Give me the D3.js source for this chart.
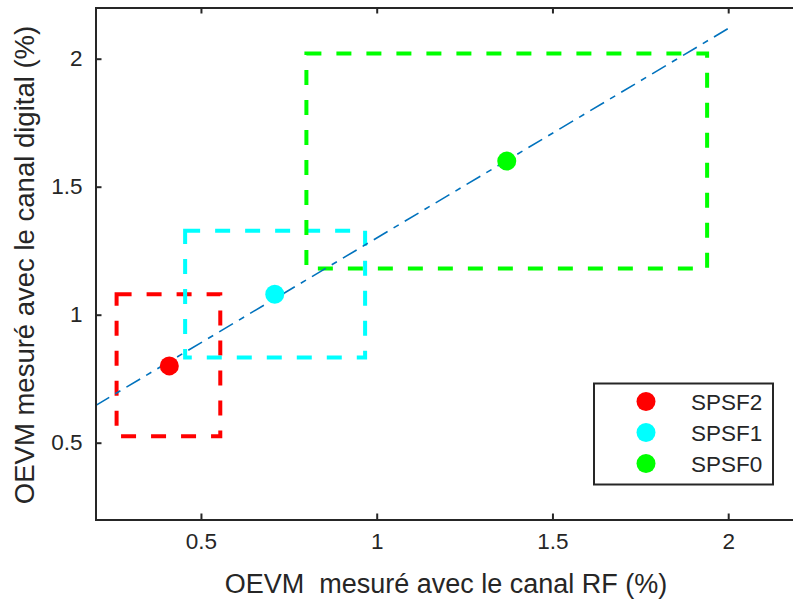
<!DOCTYPE html>
<html><head><meta charset="utf-8">
<script src="https://cdn.jsdelivr.net/npm/d3@7"></script>
<style>
html,body{margin:0;padding:0;background:#fff;overflow:hidden;}
svg{display:block;font-family:"Liberation Sans",Arial,sans-serif;}
</style></head>
<body>
<svg id="chart" width="793" height="599"></svg>
<script>
// ---- data ----
const series = ["SPSF2", "SPSF1", "SPSF0"];
const colors = ["#ff0000", "#00ffff", "#00ff00"];
const xValues = [0.41, 0.71, 1.37];
const yValues = [0.80, 1.08, 1.60];
// rectangles: [xmin, xmax, ymin, ymax]
const boxes = [
  [0.26, 0.555, 0.525, 1.08],
  [0.455, 0.967, 0.833, 1.328],
  [0.80, 1.94, 1.18, 2.02]
];
// fitted line endpoints
const fitX = [0.2, 2.0];
const fitY = [0.645, 2.118];
const xTicks = [0.5, 1, 1.5, 2];
const yTicks = [0.5, 1, 1.5, 2];
const xLabel = "OEVM  mesuré avec le canal RF (%)";
const yLabel = "OEVM mesuré avec le canal digital (%)";

// ---- drawing ----
const svg = d3.select("#chart");
const x = d3.scaleLinear().domain([0.2, 2.2]).range([95.5, 798.5]);
const y = d3.scaleLinear().domain([0.2, 2.2]).range([519.5, 7.5]);
const axisColor = "#262626";

// boxes
boxes.forEach((b, i) => {
  const p = d3.path();
  p.moveTo(x(b[0]), y(b[3]));
  p.lineTo(x(b[1]), y(b[3]));
  p.lineTo(x(b[1]), y(b[2]));
  p.lineTo(x(b[0]), y(b[2]));
  p.closePath();
  svg.append("path").attr("d", p.toString())
    .attr("fill", "none").attr("stroke", colors[i])
    .attr("stroke-width", 4).attr("stroke-dasharray", "15 15");
});

// fit line
const fitData = fitX.map((v, i) => [v, fitY[i]]);
svg.append("path").datum(fitData)
  .attr("d", d3.line().x(d => x(d[0])).y(d => y(d[1])))
  .attr("fill", "none").attr("stroke", "#0072BD")
  .attr("stroke-width", 1.6).attr("stroke-dasharray", "16 7 6 7");

// points
svg.selectAll("circle.pt").data(series).enter().append("circle")
  .attr("class", "pt")
  .attr("cx", (d, i) => x(xValues[i])).attr("cy", (d, i) => y(yValues[i]))
  .attr("r", 9.5).attr("fill", (d, i) => colors[i]);

// axes
const fs = 22.5;
const xAxis = d3.axisBottom(x).tickValues(xTicks).tickSize(-6).tickPadding(14).tickFormat(d3.format("~g"));
const gx = svg.append("g").attr("transform", `translate(0,${y(0.2)})`).call(xAxis);
const xAxisTop = d3.axisTop(x).tickValues(xTicks).tickSize(-6).tickFormat("");
const gxt = svg.append("g").attr("transform", `translate(0,${y(2.2)})`).call(xAxisTop);
const yAxis = d3.axisLeft(y).tickValues(yTicks).tickSize(-6).tickPadding(13).tickFormat(d3.format("~g"));
const gy = svg.append("g").attr("transform", `translate(${x(0.2)},0)`).call(yAxis);
[gx, gxt, gy].forEach(g => {
  g.select(".domain").attr("stroke", axisColor).attr("stroke-width", 2);
  g.selectAll(".tick line").attr("stroke", axisColor).attr("stroke-width", 2);
  g.selectAll("text").attr("fill", axisColor).attr("font-size", fs)
    .attr("font-family", "Liberation Sans, Arial, sans-serif");
});
gx.selectAll(".tick text").attr("dy", "0.71em");

// labels
svg.append("text").attr("x", 446).attr("y", 593).attr("text-anchor", "middle")
  .style("white-space", "pre")
  .attr("font-size", 27).attr("fill", axisColor).text(xLabel);
svg.append("text").attr("transform", "translate(34,265) rotate(-90)")
  .attr("text-anchor", "middle").attr("font-size", 27.5).attr("fill", axisColor).text(yLabel);

// legend
const lg = svg.append("g");
lg.append("rect").attr("x", 594).attr("y", 383.5).attr("width", 179).attr("height", 101)
  .attr("fill", "#fff").attr("stroke", axisColor).attr("stroke-width", 2);
series.forEach((s, i) => {
  const cy = 401.5 + i * 31;
  lg.append("circle").attr("cx", 646).attr("cy", cy).attr("r", 9.5).attr("fill", colors[i]);
  lg.append("text").attr("x", 691).attr("y", cy).attr("dy", "0.36em")
    .attr("font-size", fs).attr("fill", axisColor).text(s);
});
</script>
</body></html>
